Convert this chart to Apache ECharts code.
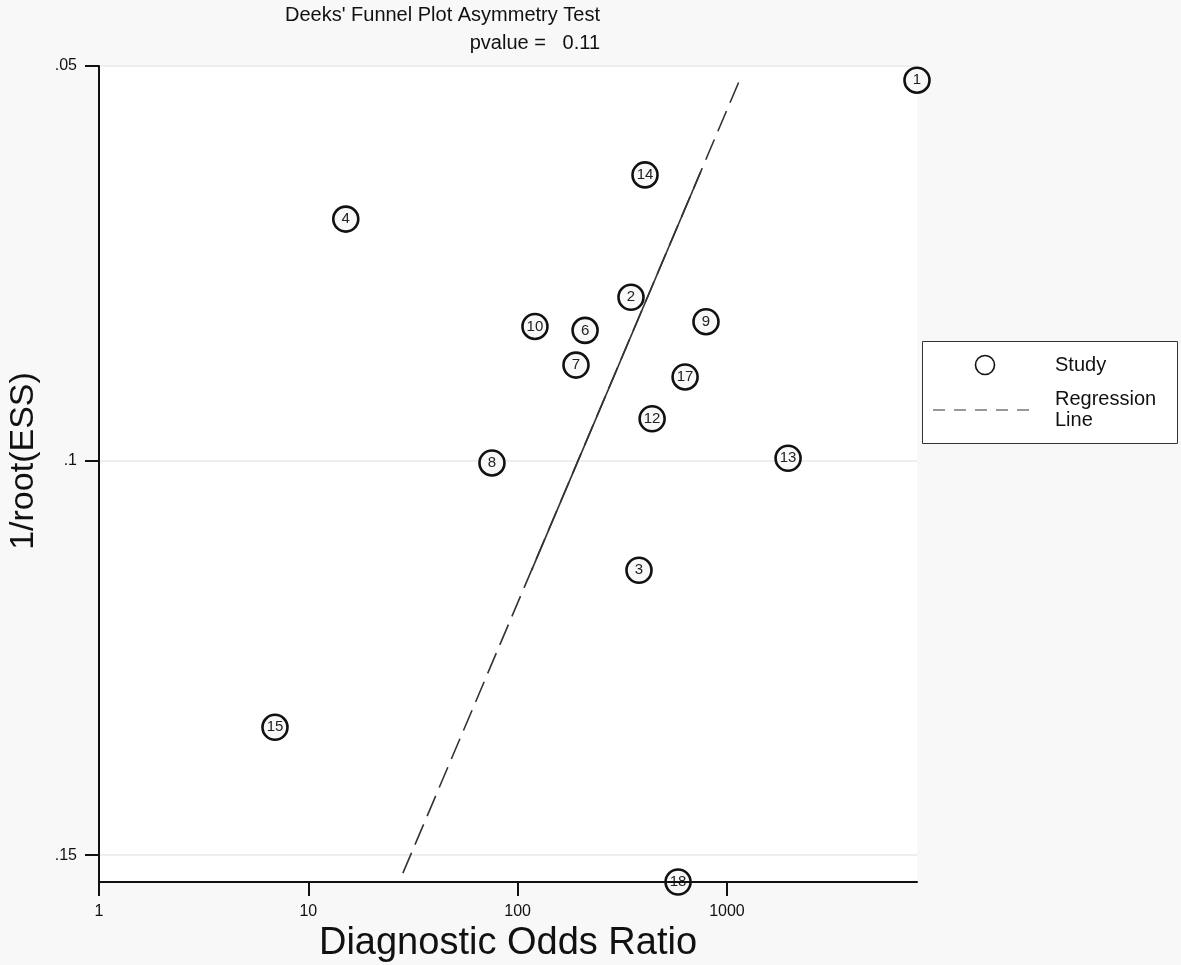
<!DOCTYPE html>
<html>
<head>
<meta charset="utf-8">
<script src="https://cdn.jsdelivr.net/npm/echarts@6.0.0/dist/echarts.min.js"></script>
<style>
html,body{margin:0;padding:0;background:#f8f8f8;}
#chart{width:1181px;height:965px;}
</style>
</head>
<body>
<div id="chart"></div>
<script>
// ---- data ----
const studyLabels = ['1','14','4','2','10','6','9','7','17','12','13','8','3','15','18'];
const studyDOR    = [8090, 406, 15.1, 348, 121, 210, 794, 190, 631, 439, 1959, 75.4, 380, 6.93, 584];
const studyInvESS = [0.0518, 0.0638, 0.0694, 0.0793, 0.0830, 0.0835, 0.0824, 0.0879, 0.0894, 0.0947, 0.0997, 0.1003, 0.1139, 0.1338, 0.1534];
// regression line: full extent (dashed) and central solid part
const regDashDOR = [28.3, 1155];
const regDashY   = [0.15228, 0.05165];
const regSolidDOR = [116.7, 748.4];
const regSolidY   = [0.11388, 0.06343];
const xTicks = [1, 10, 100, 1000];
const yTicks = [0.05, 0.10, 0.15];
const yTickLabels = ['.05', '.1', '.15'];
const titleLine1 = "Deeks' Funnel Plot Asymmetry Test";
const titleLine2 = 'pvalue =   0.11';
const xName = 'Diagnostic Odds Ratio';
const yName = '1/root(ESS)';
const legendNames = ['Study', 'Regression\nLine'];

const FONT = '"Liberation Sans", Arial, sans-serif';
const studyData = studyDOR.map((x, i) => ({ value: [x, studyInvESS[i]], label: studyLabels[i] }));
const dashData = regDashDOR.map((x, i) => [x, regDashY[i]]);
const solidData = regSolidDOR.map((x, i) => [x, regSolidY[i]]);

const chart = echarts.init(document.getElementById('chart'), null, { renderer: 'canvas' });
chart.setOption({
  backgroundColor: '#f8f8f8',
  animation: false,
  textStyle: { fontFamily: FONT },
  title: [
    { text: titleLine1, right: 581, top: 5, padding: 0,
      textStyle: { fontFamily: FONT, fontSize: 20, fontWeight: 'normal', color: '#111' } },
    { text: titleLine2, right: 581, top: 33, padding: 0,
      textStyle: { fontFamily: FONT, fontSize: 20, fontWeight: 'normal', color: '#111' } }
  ],
  grid: { left: 99, right: 264, top: 66, bottom: 83, show: true, backgroundColor: '#ffffff', borderWidth: 0,
    containLabel: false, outerBoundsMode: 'none' },
  graphic: [
    { type: 'rect', left: 922, top: 341, z: 10, silent: true,
      shape: { x: 0, y: 0, width: 255, height: 102 },
      style: { fill: '#ffffff', stroke: '#333', lineWidth: 1 } },
    { type: 'circle', x: 985, y: 365, z: 11, silent: true,
      shape: { cx: 0, cy: 0, r: 9.5 },
      style: { fill: '#ffffff', stroke: '#111', lineWidth: 1.6 } },
    { type: 'text', x: 1055, y: 365, z: 11, silent: true,
      style: { text: legendNames[0], font: '20px ' + FONT, fill: '#111', textVerticalAlign: 'middle', verticalAlign: 'middle' } },
    { type: 'line', x: 0, y: 0, z: 11, silent: true,
      shape: { x1: 933, y1: 410, x2: 1037, y2: 410 },
      style: { stroke: '#777', lineWidth: 1.5, lineDash: [12, 9] } },
    { type: 'text', x: 1055, y: 410, z: 11, silent: true,
      style: { text: legendNames[1], font: '20px ' + FONT, lineHeight: 21, fill: '#111', textVerticalAlign: 'middle', verticalAlign: 'middle' } }
  ],
  xAxis: {
    type: 'log', logBase: 10, min: 1, max: 8090, z: 5,
    name: xName, nameLocation: 'middle', nameGap: 42,
    nameTextStyle: { fontFamily: FONT, fontSize: 38, color: '#111' },
    axisLine: { show: true, onZero: false, lineStyle: { color: '#111', width: 2 } },
    axisTick: { show: true, length: 14, lineStyle: { color: '#111', width: 2 }, customValues: xTicks },
    axisLabel: { fontFamily: FONT, fontSize: 16, color: '#111', margin: 22, customValues: xTicks, formatter: v => String(Math.round(v)) },
    splitLine: { show: false },
    minorTick: { show: false }
  },
  yAxis: {
    type: 'value', inverse: true, min: 0.05, max: 0.1534, interval: 0.05,
    name: yName, nameLocation: 'middle', nameRotate: 90, nameGap: 58,
    nameTextStyle: { fontFamily: FONT, fontSize: 34, color: '#111', padding: [0, 0, 0, 26] },
    axisLine: { show: true, onZero: false, lineStyle: { color: '#111', width: 2 } },
    axisTick: { show: true, length: 14, lineStyle: { color: '#111', width: 2 }, customValues: yTicks },
    axisLabel: { fontFamily: FONT, fontSize: 16, color: '#111', margin: 22, customValues: yTicks,
      formatter: v => { const i = yTicks.findIndex(t => Math.abs(t - v) < 1e-6); return i >= 0 ? yTickLabels[i] : ''; } },
    splitLine: { show: true, lineStyle: { color: '#eeeeee', width: 2 } }
  },
  series: [
    {
      name: 'Regression Line', type: 'line', data: dashData, symbol: 'none', z: 2, clip: false,
      lineStyle: { color: '#333', width: 1.6, type: [22, 9] }, silent: true
    },
    {
      name: 'regSolid', type: 'line', data: solidData, symbol: 'none', z: 2, clip: false,
      lineStyle: { color: '#333', width: 1.6, type: 'solid' }, silent: true
    },
    {
      name: 'Study', type: 'scatter', data: studyData, symbol: 'circle', symbolSize: 25, z: 3, clip: false,
      itemStyle: { color: '#f8f8f8', borderColor: '#111', borderWidth: 2.6, opacity: 1 },
      label: { show: true, position: 'inside', formatter: p => p.data.label, fontFamily: FONT, fontSize: 15, color: '#222' }
    }
  ]
});
</script>
</body>
</html>
